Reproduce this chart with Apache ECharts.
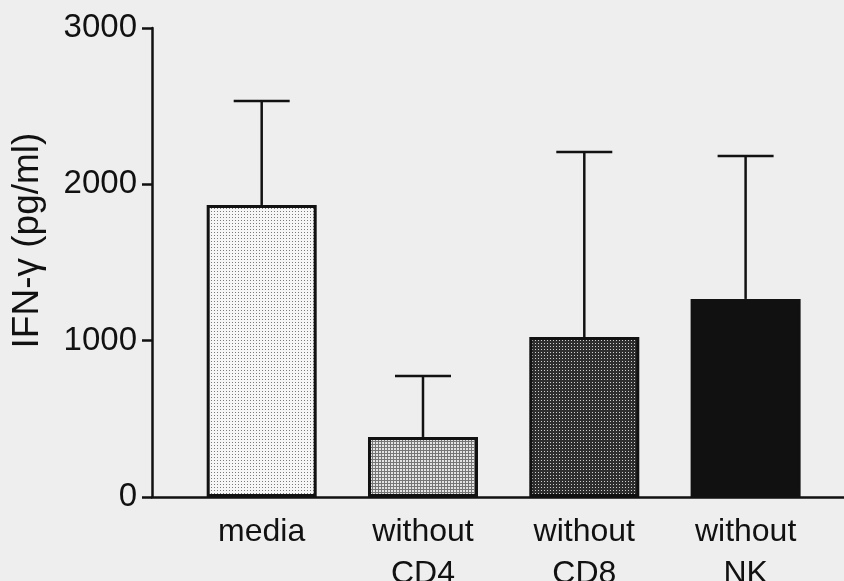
<!DOCTYPE html>
<html>
<head>
<meta charset="utf-8">
<script src="https://cdn.jsdelivr.net/npm/echarts@6/dist/echarts.min.js"></script>
<style>
html,body{margin:0;padding:0;background:#eeeeee;}
#chart{width:844px;height:581px;}
</style>
</head>
<body>
<div id="chart"></div>
<script>
// ---- data ----
const categories = ['media', 'without\nCD4', 'without\nCD8', 'without\nNK'];
const means = [1868, 384, 1023, 1267];
const sds = [665, 390, 1184, 914];
const yTicks = [0, 1000, 2000, 3000];
const yAxisName = 'IFN-γ (pg/ml)';

// ---- fill patterns (styles) ----
function makePattern(size, bg, fg, cells) {
  const c = document.createElement('canvas');
  c.width = size; c.height = size;
  const g = c.getContext('2d');
  g.fillStyle = bg; g.fillRect(0, 0, size, size);
  g.fillStyle = fg;
  cells.forEach(function (p) { g.fillRect(p[0], p[1], 1, 1); });
  return { image: c, repeat: 'repeat' };
}
const fills = [
  makePattern(3, '#f6f6f6', '#7a7a7a', [[1, 1]]),
  makePattern(3, '#e4e4e4', '#767676', [[0, 0], [1, 0], [2, 0], [0, 1], [0, 2]]),
  makePattern(3, '#2e2e2e', '#cfcfcf', [[1, 1]]),
  '#111111'
];

const barData = means.map(function (m, i) {
  return { value: [i, m], itemStyle: { color: fills[i] } };
});
const errData = means.map(function (m, i) { return [i, m, m + sds[i]]; });

const chart = echarts.init(document.getElementById('chart'), null, { renderer: 'canvas' });
chart.setOption({
  backgroundColor: '#eeeeee',
  animation: false,
  textStyle: { fontFamily: 'Liberation Sans, Arial, sans-serif' },
  grid: { left: 152, right: 0, top: 28, bottom: 84, containLabel: false, outerBoundsMode: 'none' },
  xAxis: {
    type: 'value',
    min: -0.68,
    max: 3.61,
    splitLine: { show: false },
    axisTick: { show: false },
    axisLine: { show: true, onZero: false, lineStyle: { color: '#111', width: 2.5 } },
    axisLabel: {
      customValues: [0, 1, 2, 3],
      formatter: function (v) { return categories[Math.round(v)]; },
      color: '#111',
      fontSize: 32,
      lineHeight: 42,
      margin: 14,
      fontFamily: 'Liberation Sans, Arial, sans-serif'
    }
  },
  yAxis: {
    type: 'value',
    min: yTicks[0],
    max: yTicks[yTicks.length - 1],
    interval: 1000,
    splitLine: { show: false },
    axisLine: { show: true, onZero: false, lineStyle: { color: '#111', width: 2.5 } },
    axisTick: { show: true, length: 10, lineStyle: { color: '#111', width: 2.5 } },
    axisLabel: {
      color: '#111', fontSize: 33, margin: 15,
      formatter: function (v) { return String(v); },
      fontFamily: 'Liberation Sans, Arial, sans-serif'
    },
    name: yAxisName,
    nameLocation: 'middle',
    nameGap: 106,
    nameTextStyle: { color: '#111', fontSize: 37, padding: [0, 0, 0, 44], fontFamily: 'Liberation Sans, Arial, sans-serif' }
  },
  series: [
    {
      type: 'custom',
      z: 1,
      data: errData,
      encode: { x: 0, y: [1, 2] },
      renderItem: function (params, api) {
        const x = api.value(0);
        const p0 = api.coord([x, api.value(1)]);
        const p1 = api.coord([x, api.value(2)]);
        const hw = 28;
        const st = { stroke: '#111', lineWidth: 2.5 };
        return {
          type: 'group',
          children: [
            { type: 'line', shape: { x1: p0[0], y1: p0[1], x2: p1[0], y2: p1[1] }, style: st },
            { type: 'line', shape: { x1: p1[0] - hw, y1: p1[1], x2: p1[0] + hw, y2: p1[1] }, style: st }
          ]
        };
      }
    },
    {
      type: 'bar',
      z: 2,
      barWidth: 110,
      data: barData,
      itemStyle: { borderColor: '#111', borderWidth: 3 }
    }
  ]
});
</script>
</body>
</html>
